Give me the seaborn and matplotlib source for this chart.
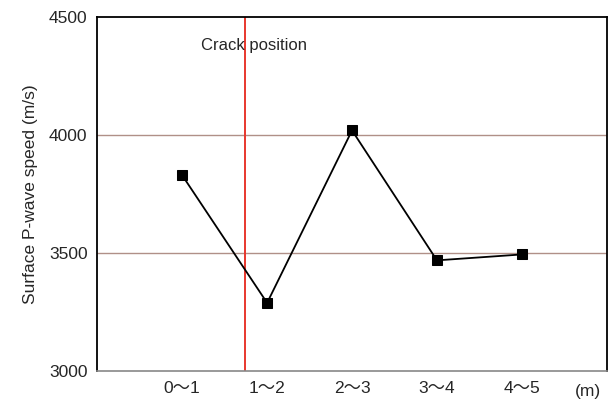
import matplotlib
matplotlib.use("Agg")
import matplotlib.pyplot as plt
import numpy as np
import pandas as pd
import seaborn as sns

# data
segments = ["0\u301c1", "1\u301c2", "2\u301c3", "3\u301c4", "4\u301c5"]
speeds = [3830, 3290, 4020, 3470, 3495]
crack_pos = 0.74  # in category units, between 0~1 and 1~2
y_ticks = [3000, 3500, 4000, 4500]

sns.set_style("white")
plt.rcParams["font.family"] = ["Liberation Sans", "Noto Sans CJK JP", "DejaVu Sans"]

df = pd.DataFrame({"pos": np.arange(len(segments)), "speed": speeds})

fig, ax = plt.subplots(figsize=(6.08, 4.05), dpi=100)
fig.subplots_adjust(left=0.16, right=0.998, bottom=0.083, top=0.958)

for y in y_ticks[1:-1]:
    ax.axhline(y, color="#b09088", lw=1.0, zorder=1)

ax.axvline(crack_pos, color="#e8372d", lw=1.4, zorder=2)
ax.text(crack_pos + 0.1, 4378, "Crack position", ha="center", va="center", fontsize=12)

sns.lineplot(data=df, x="pos", y="speed", ax=ax, color="black", lw=1.3,
             marker="s", markersize=7, markeredgecolor="black", zorder=3)

ax.set_xlim(-1, 5)
ax.set_ylim(3000, 4500)
ax.set_yticks(y_ticks)
ax.set_yticklabels([str(v) for v in y_ticks], fontsize=12.5)
ax.set_xticks(df["pos"])
ax.set_xticklabels(segments, fontsize=12.5)
ax.tick_params(axis="x", direction="in", length=3, color="#999999", pad=7)
ax.tick_params(axis="y", direction="out", length=4, width=1.2, pad=3)
ax.text(4.78, -0.058, "(m)", transform=ax.get_xaxis_transform(), ha="center",
        va="center", fontsize=12.5)

ax.set_xlabel("")
ax.set_ylabel("Surface P-wave speed (m/s)", fontsize=12.5, labelpad=8)

for side in ["left", "top", "right"]:
    ax.spines[side].set_color("black")
    ax.spines[side].set_linewidth(1.3)
ax.spines["bottom"].set_color("#888888")
ax.spines["bottom"].set_linewidth(1.2)

fig.savefig("out.png", dpi=100)
